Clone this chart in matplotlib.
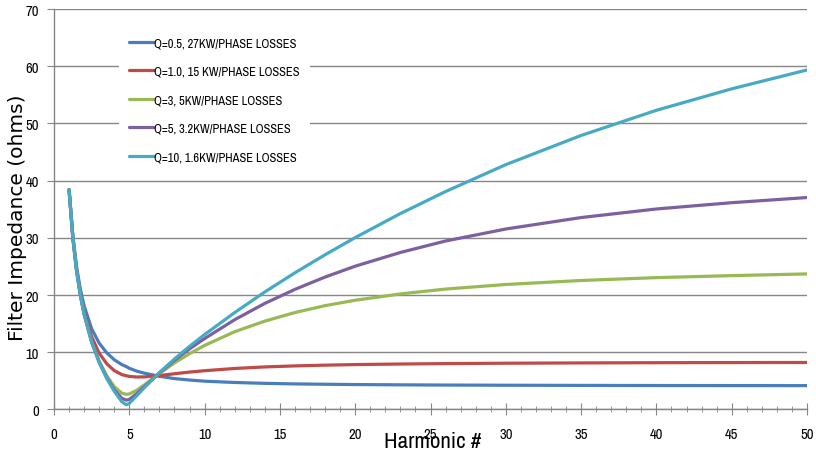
import matplotlib
matplotlib.use("Agg")
import matplotlib.pyplot as plt
from matplotlib.ticker import MultipleLocator
from matplotlib import font_manager
from matplotlib.font_manager import FontProperties

harmonic = [1, 1.25, 1.5, 1.75, 2, 2.5, 3, 3.5, 4, 4.5, 4.8, 5, 5.5, 6, 7, 8, 9, 10,
            12, 14, 16, 18, 20, 23, 26, 30, 35, 40, 45, 50]

z_q05 = [38.4, 30.4, 24.9, 21.0, 18.1, 14.1, 11.6, 9.9, 8.7, 7.85, 7.5, 7.2, 6.7, 6.35,
         5.8, 5.4, 5.15, 4.95, 4.72, 4.57, 4.47, 4.41, 4.36, 4.31, 4.27, 4.24, 4.21,
         4.19, 4.18, 4.17]
z_q1 = [38.4, 30.1, 24.4, 20.3, 17.1, 12.7, 9.85, 8.0, 6.8, 6.1, 5.9, 5.78, 5.68, 5.7,
        5.93, 6.25, 6.54, 6.78, 7.17, 7.44, 7.62, 7.75, 7.85, 7.95, 8.02, 8.09, 8.14,
        8.18, 8.2, 8.22]
z_q3 = [38.4, 30.0, 24.2, 20.0, 16.7, 11.85, 8.45, 5.9, 4.0, 2.86, 2.65, 2.72, 3.37, 4.3,
        6.3, 8.15, 9.75, 11.2, 13.6, 15.45, 16.95, 18.15, 19.1, 20.2, 21.05, 21.85,
        22.55, 23.05, 23.4, 23.7]
z_q5 = [38.4, 30.0, 24.2, 19.95, 16.65, 11.78, 8.28, 5.58, 3.45, 1.96, 1.64, 1.77, 2.77,
        4.0, 6.4, 8.6, 10.6, 12.4, 15.7, 18.55, 21.0, 23.15, 25.05, 27.45, 29.45,
        31.55, 33.55, 35.05, 36.15, 37.05]
z_q10 = [38.4, 30.0, 24.2, 19.95, 16.64, 11.75, 8.2, 5.43, 3.18, 1.36, 0.83, 1.08, 2.42,
         3.83, 6.45, 8.83, 11.03, 13.1, 16.95, 20.55, 23.9, 27.05, 30.05, 34.25, 38.1,
         42.8, 47.9, 52.3, 56.05, 59.35]

labels = ["Q=0.5, 27KW/PHASE LOSSES", "Q=1.0, 15 KW/PHASE LOSSES",
          "Q=3, 5KW/PHASE LOSSES", "Q=5, 3.2KW/PHASE LOSSES",
          "Q=10, 1.6KW/PHASE LOSSES"]
colors = ["#4A7EBB", "#BE4B48", "#98B954", "#7D60A0", "#46AAC5"]


def narrow_font(size):
    # look for a condensed sans face, fall back to plain DejaVu
    entries = font_manager.fontManager.ttflist
    for e in entries:
        if e.name == "Liberation Sans Narrow" and e.style == "normal" and e.weight == 400:
            return FontProperties(fname=e.fname, size=size)
    for e in entries:
        if ("Condensed" in e.name or "Narrow" in e.name) and e.style == "normal" \
                and e.weight == 400:
            return FontProperties(fname=e.fname, size=size)
    for e in entries:
        if ("Condensed" in e.name or "Narrow" in e.name) and e.style == "normal":
            return FontProperties(fname=e.fname, size=size)
    return FontProperties(family="DejaVu Sans", size=size)


fig = plt.figure(figsize=(8.16, 4.56), dpi=100)
ax = fig.add_axes([0.0662, 0.0998, 0.9228, 0.8782])

for z, c, lab in zip([z_q05, z_q1, z_q3, z_q5, z_q10], colors, labels):
    ax.plot(harmonic, z, color=c, lw=2.3, label=lab, solid_capstyle="round")

ax.set_xlim(0, 50)
ax.set_ylim(0, 70)
ax.xaxis.set_major_locator(MultipleLocator(5))
ax.xaxis.set_minor_locator(MultipleLocator(1))
ax.yaxis.set_major_locator(MultipleLocator(10))

gray = "#868686"
ax.grid(axis="y", color=gray, lw=1)
ax.set_axisbelow(True)
for s in ["top", "right"]:
    ax.spines[s].set_visible(False)
for s in ["left", "bottom"]:
    ax.spines[s].set_color(gray)
    ax.spines[s].set_linewidth(1)

tick_fp = narrow_font(10.5)
ax.tick_params(axis="x", which="major", direction="inout", length=9, color=gray, pad=8)
ax.tick_params(axis="x", which="minor", direction="inout", length=5, color=gray)
ax.tick_params(axis="y", which="major", direction="out", length=5, color=gray, pad=6)
for t in ax.get_xticklabels() + ax.get_yticklabels():
    t.set_fontproperties(tick_fp)

fig.text(0.021, 0.522, "Filter Impedance (ohms)", fontsize=14.5, rotation=90,
         ha="center", va="center")
fig.text(0.530, 0.008, "Harmonic #", fontproperties=narrow_font(16.5),
         ha="center", va="bottom")

ax.legend(loc="upper left", bbox_to_anchor=(0.078, 0.970), frameon=True,
          facecolor="white", edgecolor="none", framealpha=1, fancybox=False,
          handlelength=2.0, handletextpad=0.0, labelspacing=1.4,
          borderpad=0.8, prop=narrow_font(9.0))

fig.savefig("out.png", dpi=100)
